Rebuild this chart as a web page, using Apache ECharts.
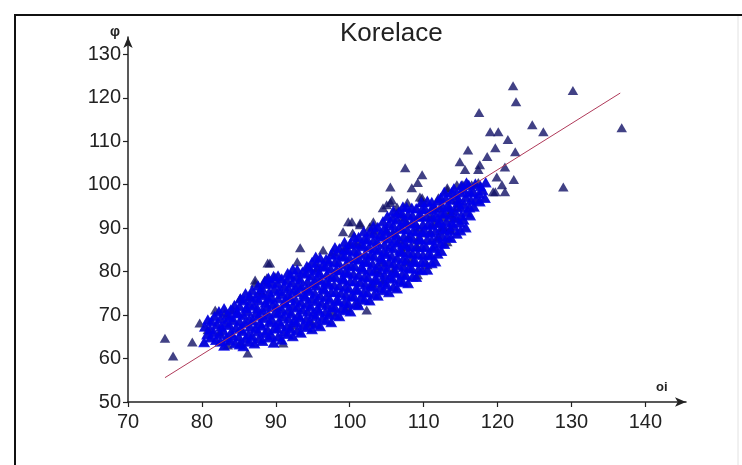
<!DOCTYPE html>
<html>
<head>
<meta charset="utf-8">
<title>Korelace</title>
<script src="https://cdn.jsdelivr.net/npm/echarts@6/dist/echarts.min.js"></script>
<style>
  html, body { margin: 0; padding: 0; background: #fff; }
  #chart { width: 742px; height: 465px; }
</style>
</head>
<body>
<div id="chart"></div>
<script>
// tick labels
var xTicks = [70, 80, 90, 100, 110, 120, 130, 140];
var yTicks = [50, 60, 70, 80, 90, 100, 110, 120, 130];

// regression line ends [oi, phi]
var trendOi = [75, 136.6];
var trendPhi = [55.6, 121.1];

// dense middle of the cloud, read column by column
var core = [
  [80.3,63.8],[80.7,65.6],[80.4,67.4],[80.8,69.0],
  [81.9,64.3],[81.6,66.1],[82.0,67.9],[81.7,69.8],
  [83.0,63.0],[83.3,64.8],[82.9,66.5],[83.2,68.3],[83.4,70.1],[83.0,71.6],
  [84.5,63.6],[84.2,65.3],[84.6,67.1],[84.3,68.9],[84.7,70.6],[84.4,72.3],
  [85.6,62.9],[85.9,64.7],[85.5,66.4],[85.8,68.2],[85.6,70.0],[86.0,71.7],[85.7,73.4],[85.9,75.0],
  [87.1,63.5],[86.8,65.2],[87.2,67.0],[86.9,68.8],[87.3,70.5],[87.0,72.2],[87.2,74.0],[86.8,75.8],
  [88.2,64.1],[88.5,65.9],[88.1,67.6],[88.4,69.4],[88.2,71.1],[88.6,72.9],[88.3,74.6],[88.1,76.3],[88.5,77.8],
  [89.7,63.7],[89.4,65.5],[89.8,67.2],[89.5,69.0],[89.9,70.7],[89.6,72.5],[89.4,74.2],[89.8,76.0],[89.5,77.6],[89.7,79.0],
  [90.8,64.4],[91.1,66.2],[90.7,67.9],[91.0,69.7],[90.8,71.4],[91.2,73.2],[90.9,74.9],[91.1,76.7],[90.8,78.4],
  [92.3,65.2],[92.0,67.0],[92.4,68.7],[92.1,70.5],[92.3,72.2],[92.0,74.0],[92.4,75.7],[92.2,77.5],[92.0,79.2],[92.3,80.6],
  [93.4,66.0],[93.7,67.8],[93.3,69.5],[93.6,71.3],[93.4,73.0],[93.8,74.8],[93.5,76.5],[93.3,78.3],[93.6,80.0],
  [94.9,66.8],[94.6,68.6],[95.0,70.3],[94.7,72.1],[94.9,73.8],[94.6,75.6],[95.0,77.3],[94.8,79.1],[94.6,80.8],[94.9,82.2],
  [96.0,67.5],[96.3,69.3],[95.9,71.0],[96.2,72.8],[96.0,74.5],[96.4,76.3],[96.1,78.0],[95.9,79.8],[96.3,81.5],[96.0,83.2],
  [97.5,68.4],[97.2,70.2],[97.6,71.9],[97.3,73.7],[97.5,75.4],[97.2,77.2],[97.6,78.9],[97.4,80.7],[97.2,82.4],[97.5,84.0],
  [98.6,69.8],[98.9,71.6],[98.5,73.3],[98.8,75.1],[98.6,76.8],[99.0,78.6],[98.7,80.3],[98.5,82.1],[98.9,83.8],[98.6,85.4],
  [100.1,70.9],[99.8,72.7],[100.2,74.4],[99.9,76.2],[100.1,77.9],[99.8,79.7],[100.2,81.4],[100.0,83.2],[99.8,84.9],[100.1,86.6],
  [101.2,72.3],[101.5,74.1],[101.1,75.8],[101.4,77.6],[101.2,79.3],[101.6,81.1],[101.3,82.8],[101.1,84.6],[101.5,86.3],[101.2,88.0],
  [102.7,73.4],[102.4,75.2],[102.8,76.9],[102.5,78.7],[102.7,80.4],[102.4,82.2],[102.8,83.9],[102.6,85.7],[102.4,87.4],[102.7,89.1],
  [103.8,74.5],[104.1,76.3],[103.7,78.0],[104.0,79.8],[103.8,81.5],[104.2,83.3],[103.9,85.0],[103.7,86.8],[104.1,88.5],[103.8,90.3],
  [105.3,75.3],[105.0,77.1],[105.4,78.8],[105.1,80.6],[105.3,82.3],[105.0,84.1],[105.4,85.8],[105.2,87.6],[105.0,89.3],[105.3,91.1],[105.1,92.8],
  [106.4,76.2],[106.7,78.0],[106.3,79.7],[106.6,81.5],[106.4,83.2],[106.8,85.0],[106.5,86.7],[106.3,88.5],[106.7,90.2],[106.4,92.0],[106.6,93.7],
  [107.9,77.4],[107.6,79.2],[108.0,80.9],[107.7,82.7],[107.9,84.4],[107.6,86.2],[108.0,87.9],[107.8,89.7],[107.6,91.4],[107.9,93.2],[107.7,94.9],
  [109.0,78.8],[109.3,80.6],[108.9,82.3],[109.2,84.1],[109.0,85.8],[109.4,87.6],[109.1,89.3],[108.9,91.1],[109.3,92.8],[109.0,94.6],
  [110.5,80.5],[110.2,82.3],[110.6,84.0],[110.3,85.8],[110.5,87.5],[110.2,89.3],[110.6,91.0],[110.4,92.8],[110.2,94.5],[110.5,96.3],
  [111.6,82.4],[111.9,84.2],[111.5,85.9],[111.8,87.7],[111.6,89.4],[112.0,91.2],[111.7,92.9],[111.5,94.7],[111.9,96.4],
  [112.8,86.4],[113.2,88.1],[112.9,89.9],[113.1,91.6],[112.8,93.4],[113.2,95.1],[113.0,96.9],[112.8,98.4],
  [114.5,88.8],[114.1,90.5],[114.4,92.3],[114.2,94.0],[114.6,95.8],[114.3,97.5],[114.1,99.2],
  [115.7,90.2],[115.4,92.0],[115.8,93.7],[115.5,95.5],[115.7,97.2],[115.4,99.0],[115.8,100.5],
  [116.8,95.0],[117.1,96.8],[116.7,98.5],[117.0,100.3],
  [118.3,97.0],[118.0,98.8],[118.4,100.6]
];

// more points in between the columns above, where the cloud is solid
var coreBetween = [
  [81.2,64.9],[81.1,66.8],[81.3,68.6],
  [82.5,63.9],[82.4,65.7],[82.6,67.4],[82.5,69.2],[82.3,70.9],
  [83.8,64.2],[83.9,66.0],[83.7,67.8],[83.8,69.6],[83.9,71.3],
  [85.1,63.3],[85.0,65.1],[85.2,66.9],[85.1,68.6],[84.9,70.4],[85.1,72.1],[85.2,73.8],
  [86.4,63.9],[86.3,65.6],[86.5,67.4],[86.4,69.1],[86.2,70.9],[86.4,72.6],[86.5,74.4],
  [87.7,64.6],[87.6,66.3],[87.8,68.1],[87.7,69.9],[87.5,71.6],[87.7,73.4],[87.8,75.1],[87.6,76.8],
  [89.0,64.9],[88.9,66.6],[89.1,68.4],[89.0,70.2],[88.8,71.9],[89.0,73.7],[89.1,75.4],[88.9,77.2],[89.0,78.6],
  [90.3,65.1],[90.2,66.9],[90.4,68.6],[90.3,70.4],[90.1,72.1],[90.3,73.9],[90.4,75.6],[90.2,77.4],[90.3,79.1],
  [91.6,65.7],[91.5,67.5],[91.7,69.2],[91.6,71.0],[91.4,72.7],[91.6,74.5],[91.7,76.2],[91.5,78.0],[91.6,79.7],
  [92.9,66.5],[92.8,68.3],[93.0,70.0],[92.9,71.8],[92.7,73.5],[92.9,75.3],[93.0,77.0],[92.8,78.8],[92.9,80.5],
  [94.2,67.3],[94.1,69.1],[94.3,70.8],[94.2,72.6],[94.0,74.3],[94.2,76.1],[94.3,77.8],[94.1,79.6],[94.2,81.3],
  [95.5,68.0],[95.4,69.8],[95.6,71.5],[95.5,73.3],[95.3,75.0],[95.5,76.8],[95.6,78.5],[95.4,80.3],[95.5,82.0],[95.4,83.4],
  [96.8,68.9],[96.7,70.7],[96.9,72.4],[96.8,74.2],[96.6,75.9],[96.8,77.7],[96.9,79.4],[96.7,81.2],[96.8,82.9],
  [98.1,70.0],[98.0,71.8],[98.2,73.5],[98.1,75.3],[97.9,77.0],[98.1,78.8],[98.2,80.5],[98.0,82.3],[98.1,84.0],[98.0,85.6],
  [99.4,71.2],[99.3,73.0],[99.5,74.7],[99.4,76.5],[99.2,78.2],[99.4,80.0],[99.5,81.7],[99.3,83.5],[99.4,85.2],[99.3,86.8],
  [100.7,72.5],[100.6,74.3],[100.8,76.0],[100.7,77.8],[100.5,79.5],[100.7,81.3],[100.8,83.0],[100.6,84.8],[100.7,86.5],[100.6,88.1],
  [102.0,73.6],[101.9,75.4],[102.1,77.1],[102.0,78.9],[101.8,80.6],[102.0,82.4],[102.1,84.1],[101.9,85.9],[102.0,87.6],[101.9,89.3],
  [103.3,74.8],[103.2,76.6],[103.4,78.3],[103.3,80.1],[103.1,81.8],[103.3,83.6],[103.4,85.3],[103.2,87.1],[103.3,88.8],[103.2,90.5],
  [104.6,75.8],[104.5,77.6],[104.7,79.3],[104.6,81.1],[104.4,82.8],[104.6,84.6],[104.7,86.3],[104.5,88.1],[104.6,89.8],[104.5,91.6],
  [105.9,76.6],[105.8,78.4],[106.0,80.1],[105.9,81.9],[105.7,83.6],[105.9,85.4],[106.0,87.1],[105.8,88.9],[105.9,90.6],[105.8,92.4],[105.9,94.0],
  [107.2,77.6],[107.1,79.4],[107.3,81.1],[107.2,82.9],[107.0,84.6],[107.2,86.4],[107.3,88.1],[107.1,89.9],[107.2,91.6],[107.1,93.4],[107.2,95.0],
  [108.5,78.9],[108.4,80.7],[108.6,82.4],[108.5,84.2],[108.3,85.9],[108.5,87.7],[108.6,89.4],[108.4,91.2],[108.5,92.9],[108.4,94.7],
  [109.8,80.4],[109.7,82.2],[109.9,83.9],[109.8,85.7],[109.6,87.4],[109.8,89.2],[109.9,90.9],[109.7,92.7],[109.8,94.4],[109.7,96.0],
  [111.1,82.0],[111.0,83.8],[111.2,85.5],[111.1,87.3],[110.9,89.0],[111.1,90.8],[111.2,92.5],[111.0,94.3],[111.1,96.0],
  [112.4,84.8],[112.3,86.6],[112.5,88.3],[112.4,90.1],[112.2,91.8],[112.4,93.6],[112.5,95.3],[112.3,97.0],
  [113.7,87.8],[113.6,89.6],[113.8,91.3],[113.7,93.1],[113.5,94.8],[113.7,96.6],[113.8,98.3],
  [115.0,89.5],[114.9,91.3],[115.1,93.0],[115.0,94.8],[114.8,96.5],[115.0,98.3],[115.1,99.8],
  [116.3,93.0],[116.2,94.8],[116.4,96.5],[116.3,98.3],[116.1,100.0],
  [117.6,96.2],[117.5,98.0],[117.7,99.7]
];

// looser points round the edge of the cloud
var fringeLeft = [
  [75.0,64.7],[76.1,60.6],[78.7,63.8],[81.8,71.2],[79.7,68.2],[86.2,61.3],[83.5,63.1],[85.2,63.6],
  [91.0,63.6],[85.2,74.0],[86.5,74.2],[88.1,75.1],[83.1,70.5],[84.2,71.2],[80.8,66.6],[82.4,66.1],
  [88.9,82.0],[87.2,77.4],[88.5,78.1],[87.2,78.1],[88.8,78.6],[89.9,78.8],[87.9,75.8],[89.2,82.0]
];
var fringeMid = [
  [93.3,85.5],[92.9,82.3],[94.4,81.1],[95.6,80.9],[96.4,85.0],[97.7,84.6],[99.1,85.0],[100.0,86.2],
  [101.0,86.6],[99.1,89.2],[100.4,88.9],[99.8,91.5],[101.4,91.2],[103.2,91.5],[101.4,90.8],[102.7,90.3],
  [103.4,89.6],[100.3,91.5],[92.2,67.7],[94.9,68.2],[97.7,70.7],[99.6,71.7],[102.3,71.2],[101.1,72.8],
  [103.2,77.4],[104.5,78.1],[105.9,79.9],[103.7,80.4],[105.9,80.4],[104.5,82.3],[107.2,84.6],[107.5,82.3],
  [110.5,81.6],[109.2,79.3],[108.2,82.7],[109.2,85.7],[107.8,85.7]
];
var fringeUpper = [
  [105.7,96.5],[106.4,94.9],[107.8,95.9],[105.0,95.4],[105.5,95.9],[104.5,94.7],[107.5,103.9],[109.8,102.3],
  [105.5,99.5],[108.4,99.3],[109.2,100.5],[113.2,98.8],[109.8,97.0],[112.0,97.0],[114.5,94.9],[112.2,94.7],
  [113.6,94.2],[112.6,92.6],[114.0,92.4],[113.6,90.1],[112.5,89.6],[111.5,91.2],[110.9,92.6],[109.5,92.6],
  [109.2,90.3],[109.8,88.9],[110.9,89.2],[107.2,92.6],[106.4,93.5],[107.8,91.2],[105.0,89.6],[105.9,88.9],
  [106.8,87.3],[107.9,88.0],[109.1,87.3],[112.0,88.0],[113.2,86.9],[114.5,96.5],[113.6,93.5],[112.6,90.3],
  [113.6,89.6],[109.5,97.2],[109.9,95.9],[111.3,94.9]
];
var fringeTop = [
  [122.1,122.8],[122.5,119.1],[130.2,121.7],[136.8,113.1],[117.5,116.6],[124.7,113.8],[126.2,112.2],[119.0,112.2],
  [120.1,112.2],[121.4,110.4],[119.7,108.5],[116.0,108.0],[122.4,107.6],[114.9,105.3],[117.6,104.6],[118.6,106.5],
  [115.6,103.5],[117.4,103.5],[121.0,104.1],[128.9,99.5],[119.9,101.8],[120.6,100.0],[119.7,98.4],[121.0,98.4],
  [122.2,101.2],[113.2,99.3],[114.5,100.0],[115.3,100.0],[116.5,100.0],[117.4,100.5],[119.4,98.4]
];

var dense = core.concat(coreBetween);
var points = dense.concat(fringeLeft, fringeMid, fringeUpper, fringeTop);
var trend = trendOi.map(function (x, i) { return [x, trendPhi[i]]; });

var font = '"Liberation Sans", Arial, sans-serif';
var chart = echarts.init(document.getElementById('chart'));

chart.setOption({
  backgroundColor: '#ffffff',
  animation: false,
  title: {
    text: 'Korelace',
    left: 335,
    top: 16,
    textStyle: { fontFamily: font, fontSize: 26, fontWeight: 'normal', color: '#222' }
  },
  grid: { left: 128, right: 56, top: 37, bottom: 63, containLabel: false },
  xAxis: {
    type: 'value',
    min: 70,
    max: 145.5,
    name: 'oi',
    nameLocation: 'end',
    nameGap: -30,
    nameTextStyle: { fontFamily: font, fontSize: 13, fontWeight: 'bold', color: '#222', align: 'left', verticalAlign: 'bottom', padding: [0, 0, 8, 0] },
    splitLine: { show: false },
    axisLine: { lineStyle: { color: '#222', width: 1.5 }, symbol: ['none', 'arrow'], symbolSize: [7, 11] },
    axisTick: { length: 5, lineStyle: { color: '#222', width: 1.2 }, customValues: xTicks },
    axisLabel: { customValues: xTicks, fontFamily: font, fontSize: 20, color: '#222', margin: 10 }
  },
  yAxis: {
    type: 'value',
    min: 50,
    max: 134,
    name: 'φ',
    nameLocation: 'end',
    nameGap: -2,
    nameTextStyle: { fontFamily: font, fontSize: 14, fontWeight: 'bold', color: '#222', align: 'right', verticalAlign: 'bottom', padding: [0, 8, 0, 0] },
    splitLine: { show: false },
    axisLine: { lineStyle: { color: '#222', width: 1.5 }, symbol: ['none', 'arrow'], symbolSize: [7, 11] },
    axisTick: { length: 5, lineStyle: { color: '#222', width: 1.2 }, customValues: yTicks },
    axisLabel: { customValues: yTicks, fontFamily: font, fontSize: 20, color: '#222', margin: 7 }
  },
  graphic: [
    { type: 'line', shape: { x1: 15, y1: 15, x2: 15, y2: 465 }, style: { stroke: '#111', lineWidth: 2 } },
    { type: 'line', shape: { x1: 14, y1: 15, x2: 742, y2: 15 }, style: { stroke: '#111', lineWidth: 2 } },
    { type: 'line', shape: { x1: 738, y1: 16, x2: 738, y2: 465 }, style: { stroke: '#e2e2e2', lineWidth: 1 } }
  ],
  series: [
    {
      // every point, dark as the single triangles look
      name: 'edge',
      type: 'scatter',
      data: points,
      symbol: 'triangle',
      symbolSize: [10.5, 9],
      itemStyle: { color: '#111166' },
      z: 2
    },
    {
      // where the triangles pile up they read as bright blue
      name: 'fill',
      type: 'scatter',
      data: dense,
      symbol: 'triangle',
      symbolSize: [12, 10.5],
      itemStyle: { color: '#0000ee' },
      z: 3
    },
    {
      name: 'trend',
      type: 'line',
      data: trend,
      symbol: 'none',
      lineStyle: { color: '#b03a5a', width: 1 },
      z: 4
    }
  ]
});
</script>
</body>
</html>
